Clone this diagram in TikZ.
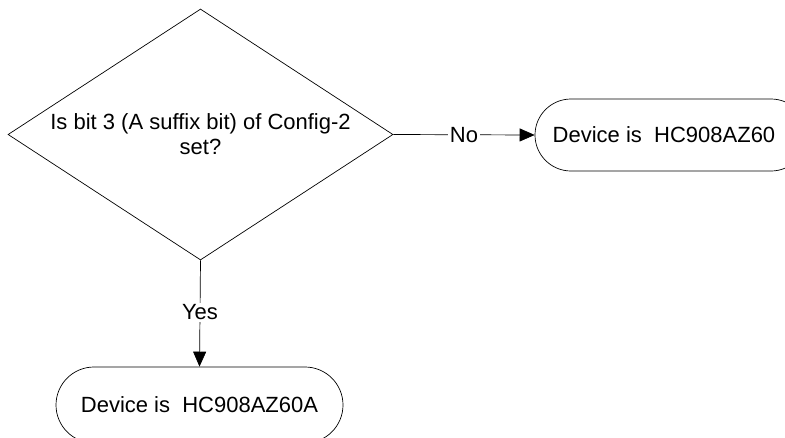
\documentclass[tikz,border=0pt]{standalone}
\usepackage{fontspec}
\setmainfont{Liberation Sans}
\usetikzlibrary{shapes.geometric,shapes.misc,arrows.meta}
\begin{document}
\begin{tikzpicture}[x=1pt,y=1pt,
  every node/.style={font=\fontsize{22}{25}\selectfont},
  decision/.style={draw, shape=diamond, shape aspect=1.534, minimum width=385pt, minimum height=251pt, inner sep=0pt, align=center, line width=0.7pt},
  term/.style={draw, shape=rounded rectangle, inner sep=0pt, line width=0.7pt},
  flow/.style={line width=0.7pt, -{Triangle[length=15pt,width=13pt]}},
  lbl/.style={fill=white, inner sep=2pt}]
\useasboundingbox (0,0) rectangle (785,-437);
\node[decision] (d) at (200.5,-134.5) {Is bit 3 (A suffix bit) of Config-2\\set?};
\node[term, minimum width=272pt, minimum height=72pt] (t1) at (671,-135) {};
\node (t1txt) at (664,-135) {Device is\ \ HC908AZ60};
\node[term, minimum width=287pt, minimum height=76pt] (t2) at (199.5,-405) {Device is\ \ HC908AZ60A};
\draw[flow] (d.east) -- node[lbl] (no) {No} (t1.west);
\draw[flow] (d.south) -- node[lbl, pos=0.49] (yes) {Yes} (t2.north);
\end{tikzpicture}
\end{document}
